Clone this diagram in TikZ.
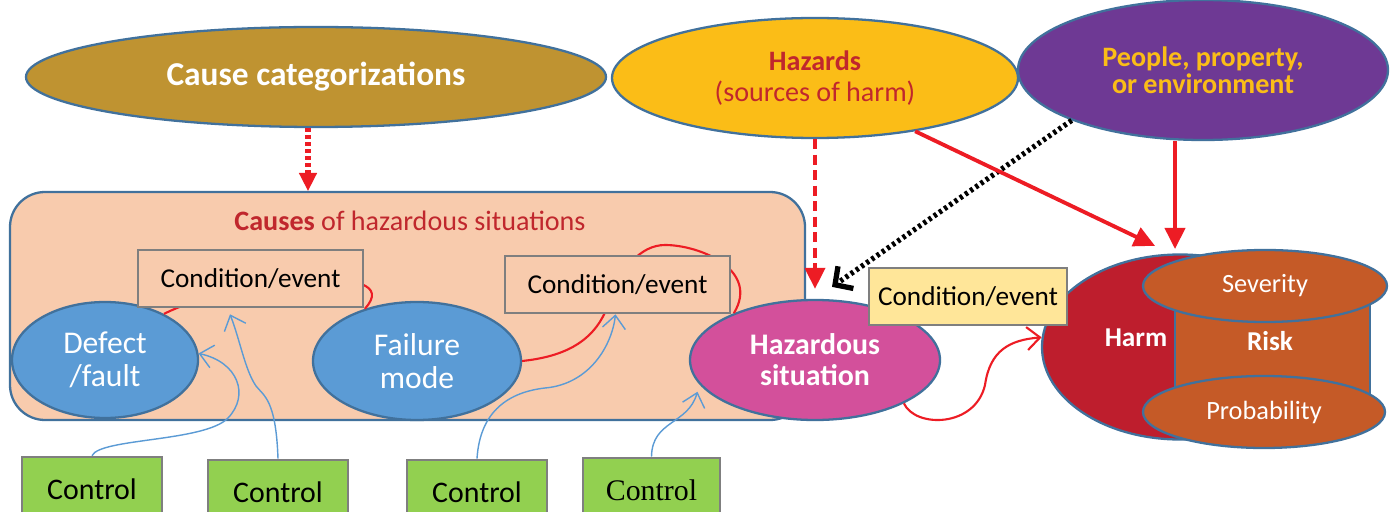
\documentclass[tikz,border=0pt]{standalone}
\usepackage{fontspec}
\setmainfont{Carlito}
\newfontfamily\serifctl{Liberation Serif}
\usetikzlibrary{arrows.meta,shapes.geometric}
\definecolor{causebrown}{HTML}{BF9331}
\definecolor{hazyellow}{HTML}{FBBD17}
\definecolor{peoplepurple}{HTML}{6E3994}
\definecolor{peach}{HTML}{F8CBAD}
\definecolor{edgeblue}{HTML}{41719C}
\definecolor{boxgray}{HTML}{7F7F7F}
\definecolor{defectblue}{HTML}{5B9BD5}
\definecolor{hazpink}{HTML}{D3509B}
\definecolor{condyellow}{HTML}{FFE699}
\definecolor{harmred}{HTML}{BE1E2D}
\definecolor{riskorange}{HTML}{C55A27}
\definecolor{ctrlgreen}{HTML}{92D050}
\definecolor{arrowred}{HTML}{ED1C24}
\definecolor{textred}{HTML}{C0272D}
\tikzset{
  blob/.style={ellipse,draw=edgeblue,line width=1.3pt,text=white,align=center,inner sep=0pt},
  condbox/.style={draw=boxgray,line width=1.5pt,fill=peach,minimum width=45mm,minimum height=11.4mm,
    font=\fontsize{15.5}{17}\selectfont},
  ctrlbox/.style={draw=boxgray,line width=1.5pt,fill=ctrlgreen,minimum width=28mm,minimum height=13mm,
    font=\fontsize{17}{19}\selectfont},
  redarrow/.style={draw=arrowred,line width=2.2pt,-{Triangle[length=4.2mm,width=4mm]}},
  redlink/.style={draw=arrowred,line width=1.2pt},
  ctrlarrow/.style={draw=defectblue,line width=0.8pt,-{Straight Barb[length=2.6mm,width=4.6mm]}},
}
\begin{document}
\begin{tikzpicture}[x=0.2mm,y=-0.2mm]
  \clip (0,0) rectangle (1395,512);
  \fill[white] (0,0) rectangle (1395,512);
  % top row
  \node[blob,fill=causebrown,minimum width=116mm,minimum height=20mm,font=\bfseries\fontsize{19}{21}\selectfont]
    (cause) at (316,77) {Cause categorizations};
  \node[blob,fill=hazyellow,minimum width=81.2mm,minimum height=24mm,text=textred,font=\fontsize{16}{17.6}\selectfont]
    (hazards) at (815,78) {\textbf{Hazards}\\(sources of harm)};
  \node[blob,fill=peoplepurple,minimum width=74mm,minimum height=28mm,text=hazyellow,font=\bfseries\fontsize{16}{15.5}\selectfont]
    (people) at (1203,70) {People, property,\\or environment};
  % causes of hazardous situations
  \node[draw=edgeblue,line width=1.3pt,fill=peach,rounded corners=7mm,minimum width=159mm,minimum height=45.6mm]
    (causes) at (407.5,306) {};
  \node[text=textred,font=\fontsize{16}{18}\selectfont] (causestitle) at (410,221)
    {\textbf{Causes} of hazardous situations};
  \node[blob,fill=defectblue,minimum width=37.2mm,minimum height=23.2mm,font=\fontsize{18}{19}\selectfont]
    (defect) at (105,360) {Defect\\/fault};
  \node[blob,fill=defectblue,minimum width=41.6mm,minimum height=23.6mm,font=\fontsize{18}{19}\selectfont]
    (failure) at (417,361) {Failure\\mode};
  \node[blob,fill=hazpink,minimum width=50mm,minimum height=24mm,font=\bfseries\fontsize{17}{17.5}\selectfont]
    (hazsit) at (815,360) {Hazardous\\situation};
  % harm and risk
  \node[blob,fill=harmred,minimum width=55.2mm,minimum height=37mm] (harm) at (1180,347) {};
  \fill[riskorange] (1175,286) rectangle (1370,412);
  \draw[edgeblue,line width=1.3pt] (1175,286) -- (1175,412);
  \draw[edgeblue,line width=1.3pt] (1370,286) -- (1370,412);
  \node[blob,fill=riskorange,minimum width=48.8mm,minimum height=14.4mm,font=\fontsize{15}{17}\selectfont]
    (severity) at (1265,286) {Severity};
  \node[blob,fill=riskorange,minimum width=48.4mm,minimum height=14.4mm,font=\fontsize{15}{17}\selectfont]
    (probability) at (1264,412) {Probability};
  \node[text=white,font=\bfseries\fontsize{15.5}{17}\selectfont] (harmtext) at (1136,338) {Harm};
  \node[text=white,font=\bfseries\fontsize{15.5}{17}\selectfont] (risktext) at (1270,341) {Risk};
  % red links behind the condition boxes
  \draw[redlink] (defect.38) .. controls (230,280) and (410,260) .. (failure.135);
  \draw[redlink] (failure.0) .. controls (580,355) and (600,330) .. (610,300)
    .. controls (620,270) and (640,245) .. (665,245)
    .. controls (700,245) and (760,270) .. (hazsit.150);
  \node[condbox] (cond1) at (250.5,278.5) {Condition/event};
  \node[condbox] (cond2) at (617.5,284.5) {Condition/event};
  \node[condbox,fill=condyellow,minimum width=39.6mm] (cond3) at (968,296.5) {Condition/event};
  % controls
  \node[ctrlbox] (ctrl1) at (92,489.5) {Control};
  \node[ctrlbox] (ctrl2) at (278,492.5) {Control};
  \node[ctrlbox] (ctrl3) at (477,492.5) {Control};
  \node[ctrlbox,minimum width=27.4mm,font=\serifctl\fontsize{17}{19}\selectfont] (ctrl4) at (651.5,490.5) {Control};
  \draw[ctrlarrow] (ctrl1.north) .. controls (100,438) and (205,442) .. (228,418)
    .. controls (250,395) and (238,362) .. (defect.4);
  \draw[ctrlarrow] (ctrl2.north) .. controls (276,400) and (264,396) .. (256,386)
    .. controls (245,370) and (240,340) .. ([xshift=-2mm]cond2.south -| 240,0);
  \draw[ctrlarrow] (ctrl3.north) .. controls (480,410) and (510,392) .. (545,388)
    .. controls (590,384) and (612,345) .. ([xshift=-0.4mm]cond2.south);
  \draw[ctrlarrow,shorten >=1.5mm] (ctrl4.north) .. controls (652,420) and (688,425) .. (hazsit.192);
  % arrows from the top row
  \draw[arrowred,line width=3pt,dash pattern=on 2.2pt off 1.8pt] (cause.south) ++(-8,0) -- ++(0,48);
  \draw[arrowred,line width=1pt,-{Triangle[length=3.6mm,width=3.6mm]}] (308,174) -- (causes.north -| 308,0);
  \draw[redarrow,dash pattern=on 2mm off 1.1mm] (hazards.south) -- ([yshift=2mm]hazsit.north);
  \draw[black,line width=3pt,dash pattern=on 1.8pt off 1.8pt,-{Straight Barb[length=2.6mm,width=5.4mm]}]
    (people.201) -- ([xshift=3.4mm,yshift=2.4mm]hazsit.north);
  \draw[redarrow] (hazards.-28) -- ([xshift=-5mm,yshift=1.5mm]harm.north);
  \coordinate (riskin) at (1175,249);
  \draw[redarrow] ([xshift=-5.6mm]people.south) -- (riskin);
  \draw[redlink,-{Straight Barb[length=2.6mm,width=4.6mm]}] (hazsit.-26) .. controls (915,428) and (975,428) .. (985,385)
    .. controls (990,350) and (1010,340) .. (harm.176);
\end{tikzpicture}
\end{document}
